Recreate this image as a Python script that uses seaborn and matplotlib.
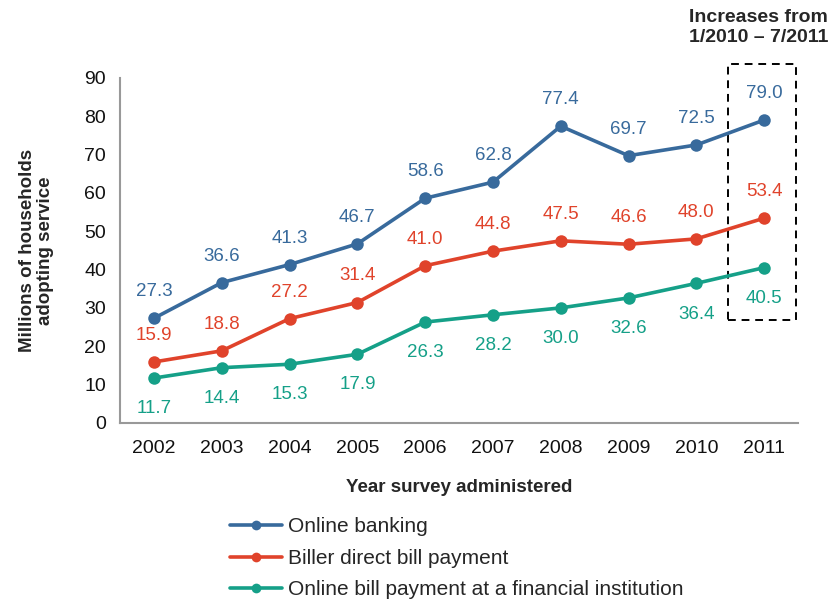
import matplotlib
matplotlib.use("Agg")
import matplotlib.pyplot as plt
import seaborn as sns
import pandas as pd
from matplotlib.patches import Rectangle

years = ["2002", "2003", "2004", "2005", "2006", "2007", "2008", "2009", "2010", "2011"]
online_banking = [27.3, 36.6, 41.3, 46.7, 58.6, 62.8, 77.4, 69.7, 72.5, 79.0]
biller_direct = [15.9, 18.8, 27.2, 31.4, 41.0, 44.8, 47.5, 46.6, 48.0, 53.4]
online_fi = [11.7, 14.4, 15.3, 17.9, 26.3, 28.2, 30.0, 32.6, 36.4, 40.5]
series_names = ["Online banking", "Biller direct bill payment",
                "Online bill payment at a financial institution"]
colors = ["#386A9C", "#E0432B", "#15A088"]

sns.set_theme(style="white")
plt.rcParams["font.family"] = ["Liberation Sans", "DejaVu Sans"]

df = pd.DataFrame({
    "year": years * 3,
    "value": online_banking + biller_direct + online_fi,
    "series": [series_names[0]] * 10 + [series_names[1]] * 10 + [series_names[2]] * 10,
})
df["x"] = list(range(10)) * 3

fig = plt.figure(figsize=(8.4, 5.99), dpi=100)
ax = fig.add_axes([0.143, 0.294, 0.807, 0.576])

sns.lineplot(data=df, x="x", y="value", hue="series", palette=colors,
             marker="o", markersize=9, markeredgewidth=0, linewidth=2.6,
             ax=ax, legend=True)

for vals, c, above in [(online_banking, colors[0], True),
                       (biller_direct, colors[1], True),
                       (online_fi, colors[2], False)]:
    for i, v in enumerate(vals):
        off = 13 if above else -16
        ax.annotate(f"{v:.1f}", (i, v), xytext=(0, off), textcoords="offset points",
                    ha="center", va="bottom" if above else "top",
                    color=c, fontsize=13.5)

ax.set_xlim(-0.5, 9.5)
ax.set_ylim(0, 90)
ax.set_xticks(range(10))
ax.set_xticklabels(years)
ax.set_yticks(range(0, 91, 10))
ax.tick_params(axis="both", labelsize=14, length=0, colors="#111111")
ax.tick_params(axis="x", pad=12)
ax.tick_params(axis="y", pad=10)
for s in ["top", "right"]:
    ax.spines[s].set_visible(False)
for s in ["left", "bottom"]:
    ax.spines[s].set_color("#999999")
    ax.spines[s].set_linewidth(1.5)
ax.set_xlabel("Year survey administered", fontsize=13.5, fontweight="bold", labelpad=16)
ax.set_ylabel("Millions of households\nadopting service", fontsize=13.5,
              fontweight="bold", labelpad=22, linespacing=1.05)

rect = Rectangle((8.47, 26.9), 1.0, 66.6, fill=False, edgecolor="black",
                 linestyle=(0, (4, 3)), linewidth=1.4, clip_on=False)
ax.add_patch(rect)
fig.text(0.903, 0.985, "Increases from\n1/2010 \u2013 7/2011", ha="center", va="top",
         fontsize=14, fontweight="bold", linespacing=1.2)

handles, labels = ax.get_legend_handles_labels()
ax.get_legend().remove()
for h in handles:
    h.set_markersize(7)
fig.legend(handles, labels, loc="upper left", bbox_to_anchor=(0.264, 0.15),
           frameon=False, fontsize=15, handlelength=2.5, handletextpad=0.3,
           labelspacing=0.6, borderaxespad=0)

fig.savefig("out.png", dpi=100)
